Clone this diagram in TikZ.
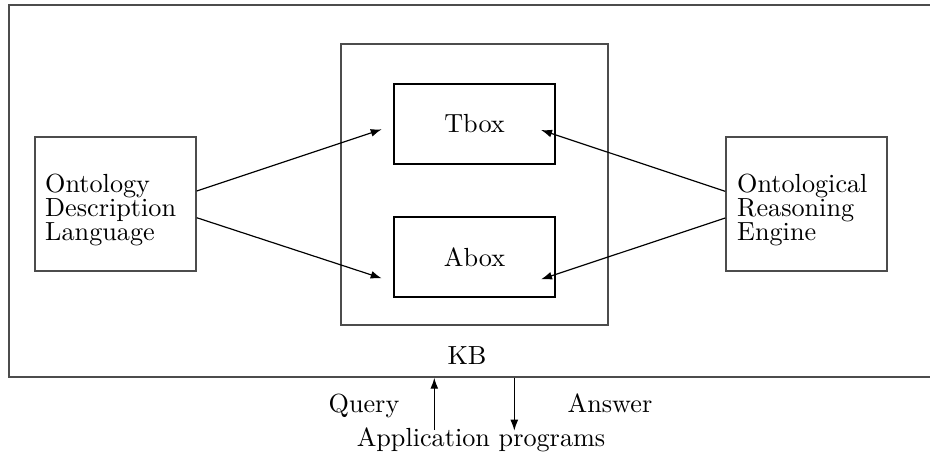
\documentclass[tikz,border=0pt]{standalone}
\usetikzlibrary{arrows.meta,calc}
\begin{document}
\def\u{0.3817pt}
\begin{tikzpicture}[x=\u,y=-\u,
  frame/.style={draw=black!70, line width=0.55pt, inner sep=0pt},
  box/.style={draw=black, line width=0.45pt, inner sep=0pt},
  lbl/.style={font=\fontsize{10pt}{9pt}\selectfont, inner sep=0pt},
  arr/.style={line width=0.45pt, -{Latex[length=4.2pt,width=3pt]}}]
\useasboundingbox (0,0) rectangle (930,466);
\clip (0,0) rectangle (930,466);

% system frame (its right side runs past the page edge)
\node[frame, minimum width=951*\u, minimum height=372*\u] (outer) at (484.5,191) {};

% knowledge base with its two parts
\node[frame, minimum width=267*\u, minimum height=281*\u] (kb) at (474.5,184.5) {};
\node[box, lbl, minimum width=161*\u, minimum height=80*\u] (tbox) at (474.5,124) {Tbox};
\node[box, lbl, minimum width=161*\u, minimum height=80*\u] (abox) at (474.5,257) {Abox};
\node[lbl, anchor=base] (kblabel) at (467,364) {KB};

% side components
\node[frame, minimum width=161*\u, minimum height=134*\u] (odl) at (115.5,204) {};
\node[lbl, anchor=west, align=left] (odltxt) at (44.7,210) {Ontology\\Description\\Language};
\node[frame, minimum width=161*\u, minimum height=134*\u] (ore) at (806.5,204) {};
\node[lbl, anchor=west, align=left] (oretxt) at (736.7,210) {Ontological\\Reasoning\\Engine};

% arrow ends in front of the boxes
\coordinate (tL) at (381.7,129.3);
\coordinate (aL) at (381.7,278.3);
\coordinate (tR) at (541,130);
\coordinate (aR) at (541,279.3);
\draw[arr] ($(odl.east)+(0,-13)$) -- (tL);
\draw[arr] ($(odl.east)+(0,13.7)$) -- (aL);
\draw[arr] ($(ore.west)+(0,-12.7)$) -- (tR);
\draw[arr] ($(ore.west)+(0,14)$) -- (aR);

% application programs below
\coordinate (qfoot) at (434.3,430);
\coordinate (afoot) at (514.3,430.7);
\draw[arr] (qfoot) -- (qfoot |- outer.south);
\draw[arr] (afoot |- outer.south) -- (afoot);
\node[lbl, anchor=base] (query) at (364,412.7) {Query};
\node[lbl, anchor=base] (answer) at (610,412.7) {Answer};
\node[lbl, anchor=base] (apps) at (481,446) {Application programs};
\end{tikzpicture}
\end{document}
